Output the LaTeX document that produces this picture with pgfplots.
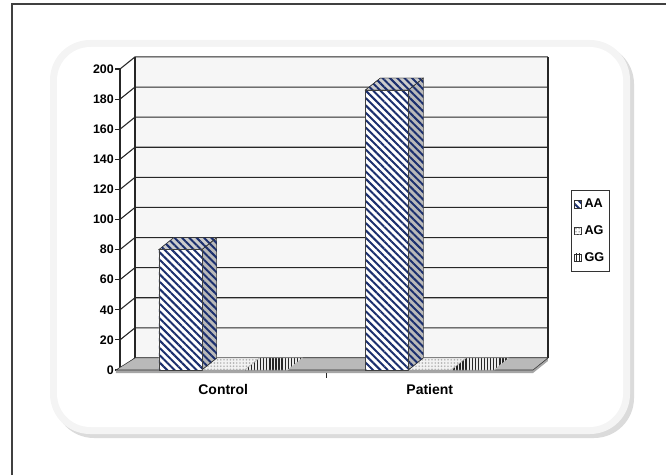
\documentclass[border=0pt]{standalone}
\usepackage{pgfplots}
\pgfplotsset{compat=1.18}
\usepackage{pgfplotstable}
\usetikzlibrary{patterns.meta}
\usepackage{fontspec}
\setmainfont{Liberation Sans}
\definecolor{navyc}{HTML}{1B2F6E}
\definecolor{wallc}{HTML}{F6F6F6}

\pgfplotstableread{
x AA AG GG
0 80 0 0
1 186 0 0
}\datatable

\tikzset{
  stripeA/.style={pattern={Lines[angle=-45,distance=3.9pt,line width=1.5pt]}, pattern color=navyc},
  dotsB/.style={pattern={Dots[distance=2.4pt,radius=0.7pt]}, pattern color=gray!60},
  vlinesC/.style={pattern={Lines[angle=90,distance=2.3pt,line width=1pt]}, pattern color=black!85},
}
\pgfplotsset{
  myleg/.style={legend image code/.code={\filldraw[##1, draw=gray!40!black, line width=0.4pt] (0pt,-2.8pt) rectangle (5.6pt,2.8pt);}},
}

\begin{document}
\begin{tikzpicture}
\begin{scope}[x=0.75pt,y=0.75pt]
\useasboundingbox (0,0) rectangle (666,475);
% outer border (left and top only)
\draw[black!75, line width=1.2pt] (12,0) -- (12,471) -- (666,471);
% rounded frame
\fill[gray!28, rounded corners=30pt] (54,37) rectangle (634,431);
\fill[gray!9, rounded corners=30pt] (50,41) rectangle (630,435);
\fill[white, rounded corners=25pt] (57,48) rectangle (623,428);
\end{scope}

\begin{axis}[
  at={(90pt,78.75pt)}, anchor=south west, scale only axis,
  width=309.75pt, height=225.75pt,
  xmin=-0.5, xmax=1.5, ymin=0, ymax=200,
  clip=false,
  axis y line*=left, axis x line*=bottom,
  x axis line style={draw=none},
  y axis line style={draw=gray!30!black, line width=0.8pt},
  ytick={0,20,...,200},
  xtick={0,1}, xticklabels={Control,Patient},
  tick align=outside,
  ytick style={draw=gray!30!black, line width=0.8pt},
  xtick style={draw=none},
  major tick length=3.5pt,
  yticklabel style={font=\bfseries\fontsize{9.3}{9.3}\selectfont, inner sep=1pt},
  xticklabel style={font=\bfseries\fontsize{10.5}{10.5}\selectfont, yshift=-4pt},
  /pgf/number format/assume math mode=true,
  legend style={at={(1.139,0.462)}, anchor=center, draw=gray!40!black, line width=0.8pt,
    font=\bfseries\fontsize{9.5}{9.5}\selectfont, inner xsep=2pt, inner ysep=4pt, row sep=8pt, fill=white},
  legend cell align=left,
]
% back wall
\fill[wallc] (-0.4274,8) rectangle (1.5726,208);
\pgfplotsinvokeforeach{0,20,...,200}{
  \draw[gray!30!black, line width=0.8pt] (-0.5,#1) -- (-0.4274,#1+8) -- (1.5726,#1+8);
}
\draw[gray!30!black, line width=0.8pt] (-0.4274,8) -- (-0.4274,208);
\draw[gray!30!black, line width=0.8pt] (1.5726,8) -- (1.5726,208);
% floor
\fill[gray!70] (-0.52,0) -- (1.5,0) -- (1.5726,8) -- (1.5726,6) -- (1.5,-2) -- (-0.52,-2) -- cycle;
\filldraw[fill=gray!55, draw=gray!35!black, line width=0.4pt] (-0.52,0) -- (1.5,0) -- (1.5726,8) -- (-0.4274,8) -- cycle;
\draw[gray!30!black, line width=0.6pt] (0.5,-2) -- (0.5,-5);

% AG tops (zero-height bars)
\addplot[forget plot, sharp plot, fill=gray!10, draw=gray!50, line width=0.3pt, postaction={dotsB}]
  coordinates {(-0.104,0) (0.104,0) (0.1766,8) (-0.0314,8)} --cycle;
\addplot[forget plot, sharp plot, fill=gray!10, draw=gray!50, line width=0.3pt, postaction={dotsB}]
  coordinates {(0.896,0) (1.104,0) (1.1766,8) (0.9686,8)} --cycle;
% GG tops
\addplot[forget plot, sharp plot, fill=gray!15, draw=gray!50, line width=0.3pt, postaction={vlinesC}]
  coordinates {(0.104,0) (0.312,0) (0.3846,8) (0.1766,8)} --cycle;
\addplot[forget plot, sharp plot, fill=gray!15, draw=gray!50, line width=0.3pt, postaction={vlinesC}]
  coordinates {(1.104,0) (1.312,0) (1.3846,8) (1.1766,8)} --cycle;
% AA sides and tops
\addplot[forget plot, sharp plot, fill=gray!55, draw=gray!40!black, line width=0.3pt, postaction={stripeA}]
  coordinates {(-0.104,0) (-0.104,80) (-0.0314,88) (-0.0314,8)} --cycle;
\addplot[forget plot, sharp plot, fill=gray!40, draw=gray!40!black, line width=0.3pt, postaction={stripeA}]
  coordinates {(-0.312,80) (-0.104,80) (-0.0314,88) (-0.2394,88)} --cycle;
\addplot[forget plot, sharp plot, fill=gray!55, draw=gray!40!black, line width=0.3pt, postaction={stripeA}]
  coordinates {(0.896,0) (0.896,186) (0.9686,194) (0.9686,8)} --cycle;
\addplot[forget plot, sharp plot, fill=gray!40, draw=gray!40!black, line width=0.3pt, postaction={stripeA}]
  coordinates {(0.688,186) (0.896,186) (0.9686,194) (0.7606,194)} --cycle;

% front faces
\addplot[ybar, bar width=0.208, bar shift=-0.208, fill=white, draw=gray!50!black, line width=0.3pt,
  postaction={stripeA}, myleg] table[x=x,y=AA]{\datatable};
\addplot[ybar, bar width=0.208, bar shift=0, fill=white, draw=none,
  postaction={dotsB}, myleg] table[x=x,y=AG]{\datatable};
\addplot[ybar, bar width=0.208, bar shift=0.208, fill=white, draw=none,
  postaction={vlinesC}, myleg] table[x=x,y=GG]{\datatable};
\legend{AA,AG,GG}
\end{axis}
\end{tikzpicture}
\end{document}
